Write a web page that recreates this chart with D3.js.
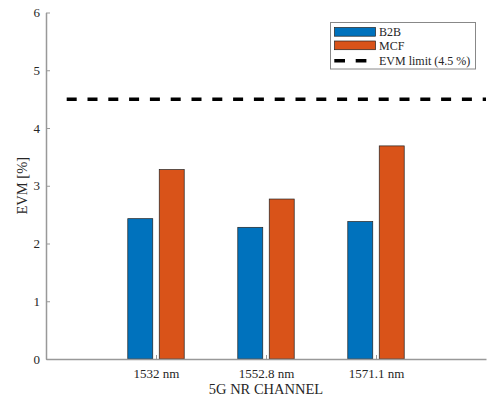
<!DOCTYPE html>
<html><head><meta charset="utf-8">
<script src="https://cdn.jsdelivr.net/npm/d3@7"></script>
<style>body{margin:0;background:#fff}svg{display:block}text{font-family:"Liberation Serif","Times New Roman",serif;fill:#262626}</style>
</head><body>
<svg id="c" width="489" height="398"></svg>
<script>
const categories = ["1532 nm", "1552.8 nm", "1571.1 nm"];
const seriesNames = ["B2B", "MCF"];
const b2b = [2.43, 2.28, 2.38];
const mcf = [3.28, 2.77, 3.69];
const evmLimit = 4.5;
const yTicks = [0, 1, 2, 3, 4, 5, 6];
const xLabel = "5G NR CHANNEL";
const yLabel = "EVM [%]";
const limitLabel = "EVM limit (4.5 %)";
const colors = ["#0072BD", "#D95319"];

const svg = d3.select("#c");
const x = d3.scaleLinear().domain([0, 4]).range([46, 486]);
const y = d3.scaleLinear().domain([0, 6]).range([359, 12.5]);
const barW = 0.227, off = 0.143;

// bars
const series = [b2b, mcf];
series.forEach((vals, s) => {
  svg.append("g").selectAll("rect").data(vals).join("rect")
    .attr("x", (d, i) => x(i + 1 + (s === 0 ? -off : off) - barW / 2))
    .attr("width", x(barW) - x(0))
    .attr("y", d => y(d))
    .attr("height", d => y(0) - y(d))
    .attr("fill", colors[s])
    .attr("stroke", "#222").attr("stroke-width", 0.7);
});

// axes
const axisColor = "#999";
const yAxis = svg.append("g").attr("transform", `translate(${x(0)},0)`)
  .call(d3.axisLeft(y).tickValues(yTicks).tickFormat(d3.format("d")).tickSizeInner(-4).tickSizeOuter(0).tickPadding(6));
const xAxis = svg.append("g").attr("transform", `translate(0,${y(0)})`)
  .call(d3.axisBottom(x).tickValues([1, 2, 3]).tickFormat((d, i) => categories[i]).tickSizeInner(-4).tickSizeOuter(0).tickPadding(7));
[yAxis, xAxis].forEach(g => {
  g.attr("font-family", null);
  g.select(".domain").attr("stroke", axisColor).attr("stroke-width", 1.5);
  g.selectAll(".tick line").attr("stroke", axisColor).attr("stroke-width", 1);
  g.selectAll(".tick text").style("font-size", "13px").style("font-family", '"Liberation Serif"').attr("fill", "#262626");
});
xAxis.selectAll(".tick text").attr("dy", "0.95em");

// limit line
svg.append("line")
  .attr("x1", x(0.1)).attr("x2", x(4))
  .attr("y1", y(evmLimit)).attr("y2", y(evmLimit))
  .attr("stroke", "#000").attr("stroke-width", 3.5)
  .attr("stroke-dasharray", "10,10.8").attr("stroke-dashoffset", 11.1);

// titles
svg.append("text").attr("x", (x(0) + x(4)) / 2).attr("y", 394)
  .attr("text-anchor", "middle").style("font-size", "14.5px").text(xLabel);
svg.append("text").attr("transform", `translate(27,${(y(0) + y(6)) / 2}) rotate(-90)`)
  .attr("text-anchor", "middle").style("font-size", "14.5px").text(yLabel);

// legend
const lg = svg.append("g");
lg.append("rect").attr("x", 330.5).attr("y", 22.5).attr("width", 145).attr("height", 46.5)
  .attr("fill", "#fff").attr("stroke", "#888").attr("stroke-width", 1);
seriesNames.forEach((n, i) => {
  lg.append("rect").attr("x", 334.5).attr("y", 27.5 + i * 13.5).attr("width", 41).attr("height", 8.7)
    .attr("fill", colors[i]).attr("stroke", "#222").attr("stroke-width", 0.7);
  lg.append("text").attr("x", 379).attr("y", 36 + i * 13.5).style("font-size", "12px").text(n);
});
lg.append("line").attr("x1", 334.3).attr("x2", 375.3).attr("y1", 60.7).attr("y2", 60.7)
  .attr("stroke", "#000").attr("stroke-width", 3.5).attr("stroke-dasharray", "10.7,10.7");
lg.append("text").attr("x", 379).attr("y", 64.8).style("font-size", "12px").text(limitLabel);
</script>
</body></html>
